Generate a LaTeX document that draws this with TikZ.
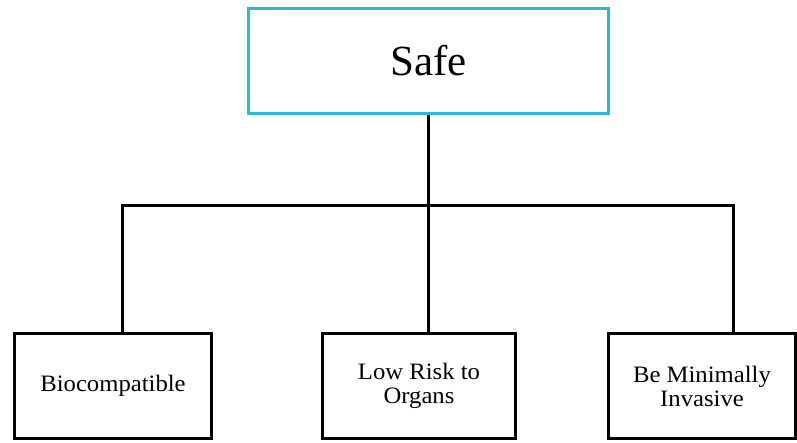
\documentclass[tikz,border=0pt]{standalone}
\usepackage{fontspec}
\setmainfont[FakeStretch=1.05]{Liberation Serif}
\newfontfamily\safefont{Liberation Serif}
\definecolor{safecyan}{RGB}{41,187,211}
\begin{document}
\begin{tikzpicture}[x=1pt,y=-1pt,
  box/.style={draw=black,line width=3pt,inner sep=0pt,minimum height=105pt,align=center,
    font=\fontsize{23.5}{24}\selectfont},
  topbox/.style={draw=safecyan,line width=3pt,inner sep=0pt,minimum width=360pt,minimum height=105pt,
    font=\safefont\fontsize{43}{48}\selectfont},
  conn/.style={line width=3pt,line join=miter}]
\useasboundingbox (0,0) rectangle (797,443);
\node[topbox] (safe) at (428.5,61) {Safe};
\node[box,minimum width=197pt] (bio) at (113,386) {Biocompatible};
\node[box,minimum width=193pt] (low) at (419,386) {Low Risk to\\Organs};
\node[box,minimum width=187pt] (inv) at (702,386) {Be Minimally\\Invasive};
\coordinate (jl) at (122,206);
\coordinate (jm) at (428.5,206);
\coordinate (jr) at (733,206);
\draw[conn] (jl |- bio.north) -- (jl) -- (jr) -- (jr |- inv.north);
\draw[conn] (safe.south) -- (jm |- low.north);
\end{tikzpicture}
\end{document}
